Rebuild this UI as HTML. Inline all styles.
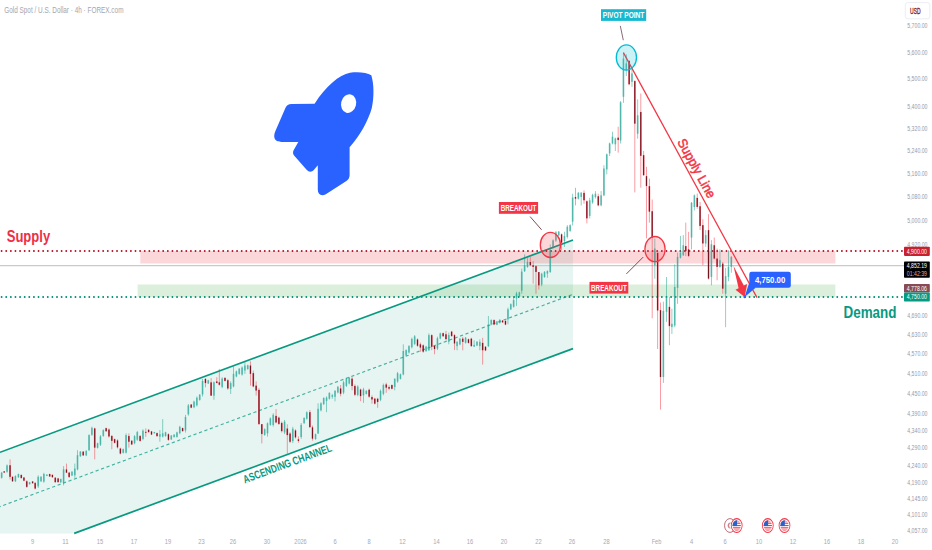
<!DOCTYPE html>
<html lang="en"><head><meta charset="utf-8"><title>Gold Spot / U.S. Dollar</title>
<style>html,body{margin:0;padding:0;background:#fff;overflow:hidden}svg{display:block}</style></head>
<body>
<svg width="932" height="550" viewBox="0 0 932 550" font-family='"Liberation Sans", sans-serif'>
<rect width="932" height="550" fill="#ffffff"/>
<polygon points="0,452.3 573.0,240.0 573.0,348.6 74.2,533.4 0,533.4" fill="#089981" fill-opacity="0.10"/>
<rect x="140.3" y="251" width="695.1" height="12.5" fill="#f23645" fill-opacity="0.2"/>
<rect x="137.6" y="284.5" width="697.8" height="12.5" fill="#4caf50" fill-opacity="0.2"/>
<line x1="0" y1="265.5" x2="904" y2="265.5" stroke="#c9cacf" stroke-width="1.25"/>
<line x1="0" y1="506.6" x2="573.0" y2="294.3" stroke="#089981" stroke-width="1.15" stroke-dasharray="3.2 2.6" stroke-dashoffset="2.4" opacity="0.72"/>
<line x1="0" y1="452.3" x2="573.0" y2="240.0" stroke="#089981" stroke-width="1.7"/>
<line x1="74.2" y1="533.4" x2="573.0" y2="348.6" stroke="#089981" stroke-width="1.7"/>
<line x1="1.6" y1="251" x2="904" y2="251" stroke="#cf2035" stroke-width="1.9" stroke-linecap="round" stroke-dasharray="0.01 4.607"/>
<line x1="1.6" y1="297" x2="904" y2="297" stroke="#089981" stroke-width="1.9" stroke-linecap="round" stroke-dasharray="0.01 4.607"/>
<line x1="1.6" y1="251" x2="904" y2="251" stroke="#6a0010" stroke-width="0.9" stroke-linecap="round" stroke-dasharray="0.01 4.607" opacity="0.75"/>
<line x1="1.6" y1="297" x2="904" y2="297" stroke="#04705e" stroke-width="0.9" stroke-linecap="round" stroke-dasharray="0.01 4.607" opacity="0.7"/>
<g id="candles">
<rect x="1.22" y="471.9" width="0.9" height="6.7" fill="#089981" fill-opacity="0.5"/>
<rect x="0.82" y="472.7" width="1.7" height="5.1" fill="#26a69a" fill-opacity="0.62"/>
<rect x="3.73" y="471.1" width="0.9" height="1.7" fill="#f23645" fill-opacity="0.55"/>
<rect x="3.33" y="471.3" width="1.7" height="1.3" fill="#ea2c40" fill-opacity="0.72"/>
<rect x="3.76" y="471.5" width="0.84" height="0.9" fill="#4a0510" fill-opacity="0.9"/>
<rect x="6.58" y="464.4" width="0.9" height="8.4" fill="#089981" fill-opacity="0.5"/>
<rect x="6.18" y="465.4" width="1.7" height="6.4" fill="#26a69a" fill-opacity="0.62"/>
<rect x="9.59" y="459.4" width="0.9" height="20.1" fill="#f23645" fill-opacity="0.55"/>
<rect x="9.19" y="465.2" width="1.7" height="11.7" fill="#ea2c40" fill-opacity="0.72"/>
<rect x="9.62" y="465.4" width="0.84" height="11.3" fill="#4a0510" fill-opacity="0.9"/>
<rect x="12.10" y="476.1" width="0.9" height="5.9" fill="#f23645" fill-opacity="0.55"/>
<rect x="11.70" y="476.8" width="1.7" height="4.5" fill="#ea2c40" fill-opacity="0.72"/>
<rect x="12.13" y="477.0" width="0.84" height="4.1" fill="#4a0510" fill-opacity="0.9"/>
<rect x="14.95" y="475.3" width="0.9" height="6.7" fill="#089981" fill-opacity="0.5"/>
<rect x="14.55" y="476.1" width="1.7" height="5.1" fill="#26a69a" fill-opacity="0.62"/>
<rect x="17.96" y="473.6" width="0.9" height="4.2" fill="#089981" fill-opacity="0.5"/>
<rect x="17.56" y="474.1" width="1.7" height="3.2" fill="#26a69a" fill-opacity="0.62"/>
<rect x="20.81" y="474.4" width="0.9" height="4.2" fill="#f23645" fill-opacity="0.55"/>
<rect x="20.41" y="474.9" width="1.7" height="3.2" fill="#ea2c40" fill-opacity="0.72"/>
<rect x="20.84" y="475.1" width="0.84" height="2.8" fill="#4a0510" fill-opacity="0.9"/>
<rect x="23.49" y="477.0" width="0.9" height="4.2" fill="#f23645" fill-opacity="0.55"/>
<rect x="23.09" y="477.5" width="1.7" height="3.2" fill="#ea2c40" fill-opacity="0.72"/>
<rect x="23.52" y="477.7" width="0.84" height="2.8" fill="#4a0510" fill-opacity="0.9"/>
<rect x="26.33" y="480.3" width="0.9" height="7.5" fill="#f23645" fill-opacity="0.55"/>
<rect x="25.93" y="481.2" width="1.7" height="5.7" fill="#ea2c40" fill-opacity="0.72"/>
<rect x="26.36" y="481.4" width="0.84" height="5.3" fill="#4a0510" fill-opacity="0.9"/>
<rect x="29.18" y="482.0" width="0.9" height="2.5" fill="#089981" fill-opacity="0.5"/>
<rect x="28.78" y="482.3" width="1.7" height="1.9" fill="#26a69a" fill-opacity="0.62"/>
<rect x="32.19" y="481.1" width="0.9" height="2.5" fill="#f23645" fill-opacity="0.55"/>
<rect x="31.79" y="481.4" width="1.7" height="1.9" fill="#ea2c40" fill-opacity="0.72"/>
<rect x="32.22" y="481.6" width="0.84" height="1.5" fill="#4a0510" fill-opacity="0.9"/>
<rect x="34.70" y="482.0" width="0.9" height="7.5" fill="#f23645" fill-opacity="0.55"/>
<rect x="34.30" y="482.9" width="1.7" height="5.7" fill="#ea2c40" fill-opacity="0.72"/>
<rect x="34.73" y="483.1" width="0.84" height="5.3" fill="#4a0510" fill-opacity="0.9"/>
<rect x="37.72" y="475.3" width="0.9" height="12.6" fill="#089981" fill-opacity="0.5"/>
<rect x="37.32" y="476.8" width="1.7" height="9.5" fill="#26a69a" fill-opacity="0.62"/>
<rect x="40.56" y="476.1" width="0.9" height="5.9" fill="#089981" fill-opacity="0.5"/>
<rect x="40.16" y="476.8" width="1.7" height="4.5" fill="#26a69a" fill-opacity="0.62"/>
<rect x="43.41" y="472.8" width="0.9" height="10.0" fill="#089981" fill-opacity="0.5"/>
<rect x="43.01" y="474.0" width="1.7" height="7.6" fill="#26a69a" fill-opacity="0.62"/>
<rect x="46.42" y="474.4" width="0.9" height="1.7" fill="#089981" fill-opacity="0.5"/>
<rect x="46.02" y="474.6" width="1.7" height="1.3" fill="#26a69a" fill-opacity="0.62"/>
<rect x="49.27" y="473.6" width="0.9" height="3.3" fill="#f23645" fill-opacity="0.55"/>
<rect x="48.87" y="474.0" width="1.7" height="2.5" fill="#ea2c40" fill-opacity="0.72"/>
<rect x="49.30" y="474.2" width="0.84" height="2.1" fill="#4a0510" fill-opacity="0.9"/>
<rect x="51.94" y="474.4" width="0.9" height="3.3" fill="#f23645" fill-opacity="0.55"/>
<rect x="51.54" y="474.8" width="1.7" height="2.5" fill="#ea2c40" fill-opacity="0.72"/>
<rect x="51.97" y="475.0" width="0.84" height="2.1" fill="#4a0510" fill-opacity="0.9"/>
<rect x="54.79" y="477.0" width="0.9" height="5.9" fill="#f23645" fill-opacity="0.55"/>
<rect x="54.39" y="477.7" width="1.7" height="4.5" fill="#ea2c40" fill-opacity="0.72"/>
<rect x="54.82" y="477.9" width="0.84" height="4.1" fill="#4a0510" fill-opacity="0.9"/>
<rect x="57.64" y="477.8" width="0.9" height="5.0" fill="#f23645" fill-opacity="0.55"/>
<rect x="57.24" y="478.4" width="1.7" height="3.8" fill="#ea2c40" fill-opacity="0.72"/>
<rect x="57.67" y="478.6" width="0.84" height="3.4" fill="#4a0510" fill-opacity="0.9"/>
<rect x="60.31" y="478.6" width="0.9" height="4.2" fill="#089981" fill-opacity="0.5"/>
<rect x="59.91" y="479.1" width="1.7" height="3.2" fill="#26a69a" fill-opacity="0.62"/>
<rect x="63.16" y="466.1" width="0.9" height="19.3" fill="#089981" fill-opacity="0.5"/>
<rect x="62.76" y="469.4" width="1.7" height="13.4" fill="#26a69a" fill-opacity="0.62"/>
<rect x="66.00" y="463.6" width="0.9" height="9.2" fill="#f23645" fill-opacity="0.55"/>
<rect x="65.60" y="469.4" width="1.7" height="3.3" fill="#ea2c40" fill-opacity="0.72"/>
<rect x="66.03" y="469.6" width="0.84" height="2.9" fill="#4a0510" fill-opacity="0.9"/>
<rect x="68.68" y="471.9" width="0.9" height="5.9" fill="#f23645" fill-opacity="0.55"/>
<rect x="68.28" y="472.6" width="1.7" height="4.5" fill="#ea2c40" fill-opacity="0.72"/>
<rect x="68.71" y="472.8" width="0.84" height="4.1" fill="#4a0510" fill-opacity="0.9"/>
<rect x="71.53" y="471.1" width="0.9" height="5.0" fill="#089981" fill-opacity="0.5"/>
<rect x="71.13" y="471.7" width="1.7" height="3.8" fill="#26a69a" fill-opacity="0.62"/>
<rect x="74.37" y="463.6" width="0.9" height="14.2" fill="#089981" fill-opacity="0.5"/>
<rect x="73.97" y="468.6" width="1.7" height="6.7" fill="#26a69a" fill-opacity="0.62"/>
<rect x="77.05" y="450.2" width="0.9" height="20.1" fill="#089981" fill-opacity="0.5"/>
<rect x="76.65" y="455.2" width="1.7" height="14.2" fill="#26a69a" fill-opacity="0.62"/>
<rect x="79.90" y="451.0" width="0.9" height="5.9" fill="#089981" fill-opacity="0.5"/>
<rect x="79.50" y="451.7" width="1.7" height="4.5" fill="#26a69a" fill-opacity="0.62"/>
<rect x="82.74" y="451.0" width="0.9" height="5.0" fill="#f23645" fill-opacity="0.55"/>
<rect x="82.34" y="451.6" width="1.7" height="3.8" fill="#ea2c40" fill-opacity="0.72"/>
<rect x="82.77" y="451.8" width="0.84" height="3.4" fill="#4a0510" fill-opacity="0.9"/>
<rect x="85.76" y="450.2" width="0.9" height="5.9" fill="#089981" fill-opacity="0.5"/>
<rect x="85.36" y="450.9" width="1.7" height="4.5" fill="#26a69a" fill-opacity="0.62"/>
<rect x="88.60" y="434.3" width="0.9" height="16.7" fill="#089981" fill-opacity="0.5"/>
<rect x="88.20" y="435.1" width="1.7" height="15.1" fill="#26a69a" fill-opacity="0.62"/>
<rect x="91.45" y="426.7" width="0.9" height="9.2" fill="#089981" fill-opacity="0.5"/>
<rect x="91.05" y="427.8" width="1.7" height="7.0" fill="#26a69a" fill-opacity="0.62"/>
<rect x="94.29" y="427.6" width="0.9" height="31.8" fill="#f23645" fill-opacity="0.55"/>
<rect x="93.89" y="428.4" width="1.7" height="19.3" fill="#ea2c40" fill-opacity="0.72"/>
<rect x="94.32" y="428.6" width="0.84" height="18.9" fill="#4a0510" fill-opacity="0.9"/>
<rect x="97.14" y="442.6" width="0.9" height="5.9" fill="#089981" fill-opacity="0.5"/>
<rect x="96.74" y="443.3" width="1.7" height="4.5" fill="#26a69a" fill-opacity="0.62"/>
<rect x="99.99" y="435.1" width="0.9" height="10.9" fill="#089981" fill-opacity="0.5"/>
<rect x="99.59" y="436.4" width="1.7" height="8.3" fill="#26a69a" fill-opacity="0.62"/>
<rect x="102.83" y="429.3" width="0.9" height="7.5" fill="#089981" fill-opacity="0.5"/>
<rect x="102.43" y="430.2" width="1.7" height="5.7" fill="#26a69a" fill-opacity="0.62"/>
<rect x="105.68" y="427.6" width="0.9" height="4.2" fill="#f23645" fill-opacity="0.55"/>
<rect x="105.28" y="428.1" width="1.7" height="3.2" fill="#ea2c40" fill-opacity="0.72"/>
<rect x="105.71" y="428.3" width="0.84" height="2.8" fill="#4a0510" fill-opacity="0.9"/>
<rect x="108.52" y="428.4" width="0.9" height="9.2" fill="#f23645" fill-opacity="0.55"/>
<rect x="108.12" y="429.5" width="1.7" height="7.0" fill="#ea2c40" fill-opacity="0.72"/>
<rect x="108.55" y="429.7" width="0.84" height="6.6" fill="#4a0510" fill-opacity="0.9"/>
<rect x="111.37" y="435.1" width="0.9" height="14.2" fill="#f23645" fill-opacity="0.55"/>
<rect x="110.97" y="435.9" width="1.7" height="5.0" fill="#ea2c40" fill-opacity="0.72"/>
<rect x="111.40" y="436.1" width="0.84" height="4.6" fill="#4a0510" fill-opacity="0.9"/>
<rect x="114.21" y="438.5" width="0.9" height="5.0" fill="#f23645" fill-opacity="0.55"/>
<rect x="113.81" y="439.1" width="1.7" height="3.8" fill="#ea2c40" fill-opacity="0.72"/>
<rect x="114.24" y="439.3" width="0.84" height="3.4" fill="#4a0510" fill-opacity="0.9"/>
<rect x="117.06" y="439.3" width="0.9" height="9.2" fill="#f23645" fill-opacity="0.55"/>
<rect x="116.66" y="440.4" width="1.7" height="7.0" fill="#ea2c40" fill-opacity="0.72"/>
<rect x="117.09" y="440.6" width="0.84" height="6.6" fill="#4a0510" fill-opacity="0.9"/>
<rect x="119.90" y="447.7" width="0.9" height="6.7" fill="#f23645" fill-opacity="0.55"/>
<rect x="119.50" y="448.5" width="1.7" height="5.1" fill="#ea2c40" fill-opacity="0.72"/>
<rect x="119.93" y="448.7" width="0.84" height="4.7" fill="#4a0510" fill-opacity="0.9"/>
<rect x="122.75" y="448.5" width="0.9" height="5.0" fill="#089981" fill-opacity="0.5"/>
<rect x="122.35" y="449.1" width="1.7" height="3.8" fill="#26a69a" fill-opacity="0.62"/>
<rect x="125.60" y="433.4" width="0.9" height="20.1" fill="#089981" fill-opacity="0.5"/>
<rect x="125.20" y="435.1" width="1.7" height="17.6" fill="#26a69a" fill-opacity="0.62"/>
<rect x="128.44" y="433.4" width="0.9" height="14.2" fill="#f23645" fill-opacity="0.55"/>
<rect x="128.04" y="435.9" width="1.7" height="5.9" fill="#ea2c40" fill-opacity="0.72"/>
<rect x="128.47" y="436.1" width="0.84" height="5.5" fill="#4a0510" fill-opacity="0.9"/>
<rect x="131.29" y="440.1" width="0.9" height="5.0" fill="#f23645" fill-opacity="0.55"/>
<rect x="130.89" y="440.7" width="1.7" height="3.8" fill="#ea2c40" fill-opacity="0.72"/>
<rect x="131.32" y="440.9" width="0.84" height="3.4" fill="#4a0510" fill-opacity="0.9"/>
<rect x="134.13" y="435.1" width="0.9" height="9.2" fill="#089981" fill-opacity="0.5"/>
<rect x="133.73" y="436.2" width="1.7" height="7.0" fill="#26a69a" fill-opacity="0.62"/>
<rect x="136.81" y="430.9" width="0.9" height="10.0" fill="#089981" fill-opacity="0.5"/>
<rect x="136.41" y="432.1" width="1.7" height="7.6" fill="#26a69a" fill-opacity="0.62"/>
<rect x="139.66" y="435.1" width="0.9" height="6.7" fill="#f23645" fill-opacity="0.55"/>
<rect x="139.26" y="435.9" width="1.7" height="5.1" fill="#ea2c40" fill-opacity="0.72"/>
<rect x="139.69" y="436.1" width="0.84" height="4.7" fill="#4a0510" fill-opacity="0.9"/>
<rect x="142.50" y="429.3" width="0.9" height="10.9" fill="#089981" fill-opacity="0.5"/>
<rect x="142.10" y="430.6" width="1.7" height="8.3" fill="#26a69a" fill-opacity="0.62"/>
<rect x="145.35" y="428.4" width="0.9" height="8.4" fill="#f23645" fill-opacity="0.55"/>
<rect x="144.95" y="431.8" width="1.7" height="1.0" fill="#ea2c40" fill-opacity="0.72"/>
<rect x="145.38" y="432.0" width="0.84" height="0.6" fill="#4a0510" fill-opacity="0.9"/>
<rect x="148.19" y="429.3" width="0.9" height="3.3" fill="#f23645" fill-opacity="0.55"/>
<rect x="147.79" y="429.7" width="1.7" height="2.5" fill="#ea2c40" fill-opacity="0.72"/>
<rect x="148.22" y="429.9" width="0.84" height="2.1" fill="#4a0510" fill-opacity="0.9"/>
<rect x="151.04" y="430.9" width="0.9" height="4.2" fill="#f23645" fill-opacity="0.55"/>
<rect x="150.64" y="431.4" width="1.7" height="3.2" fill="#ea2c40" fill-opacity="0.72"/>
<rect x="151.07" y="431.6" width="0.84" height="2.8" fill="#4a0510" fill-opacity="0.9"/>
<rect x="153.89" y="431.8" width="0.9" height="1.7" fill="#089981" fill-opacity="0.5"/>
<rect x="153.49" y="432.0" width="1.7" height="1.3" fill="#26a69a" fill-opacity="0.62"/>
<rect x="156.58" y="432.5" width="0.9" height="4.2" fill="#f23645" fill-opacity="0.55"/>
<rect x="156.18" y="433.0" width="1.7" height="3.2" fill="#ea2c40" fill-opacity="0.72"/>
<rect x="156.61" y="433.2" width="0.84" height="2.8" fill="#4a0510" fill-opacity="0.9"/>
<rect x="159.43" y="430.0" width="0.9" height="11.7" fill="#089981" fill-opacity="0.5"/>
<rect x="159.03" y="434.2" width="1.7" height="2.5" fill="#26a69a" fill-opacity="0.62"/>
<rect x="162.27" y="419.1" width="0.9" height="18.4" fill="#089981" fill-opacity="0.5"/>
<rect x="161.87" y="433.3" width="1.7" height="3.3" fill="#26a69a" fill-opacity="0.62"/>
<rect x="165.12" y="431.7" width="0.9" height="5.0" fill="#089981" fill-opacity="0.5"/>
<rect x="164.72" y="432.3" width="1.7" height="3.8" fill="#26a69a" fill-opacity="0.62"/>
<rect x="167.96" y="433.3" width="0.9" height="7.5" fill="#f23645" fill-opacity="0.55"/>
<rect x="167.56" y="434.2" width="1.7" height="5.7" fill="#ea2c40" fill-opacity="0.72"/>
<rect x="167.99" y="434.4" width="0.84" height="5.3" fill="#4a0510" fill-opacity="0.9"/>
<rect x="170.81" y="435.0" width="0.9" height="5.0" fill="#089981" fill-opacity="0.5"/>
<rect x="170.41" y="435.6" width="1.7" height="3.8" fill="#26a69a" fill-opacity="0.62"/>
<rect x="173.65" y="434.2" width="0.9" height="3.3" fill="#089981" fill-opacity="0.5"/>
<rect x="173.25" y="434.6" width="1.7" height="2.5" fill="#26a69a" fill-opacity="0.62"/>
<rect x="176.50" y="431.7" width="0.9" height="5.9" fill="#089981" fill-opacity="0.5"/>
<rect x="176.10" y="432.4" width="1.7" height="4.5" fill="#26a69a" fill-opacity="0.62"/>
<rect x="179.35" y="425.8" width="0.9" height="8.4" fill="#089981" fill-opacity="0.5"/>
<rect x="178.95" y="426.8" width="1.7" height="6.4" fill="#26a69a" fill-opacity="0.62"/>
<rect x="182.19" y="427.5" width="0.9" height="4.2" fill="#f23645" fill-opacity="0.55"/>
<rect x="181.79" y="428.0" width="1.7" height="3.2" fill="#ea2c40" fill-opacity="0.72"/>
<rect x="182.22" y="428.2" width="0.84" height="2.8" fill="#4a0510" fill-opacity="0.9"/>
<rect x="185.04" y="414.9" width="0.9" height="17.6" fill="#089981" fill-opacity="0.5"/>
<rect x="184.64" y="417.0" width="1.7" height="13.4" fill="#26a69a" fill-opacity="0.62"/>
<rect x="187.88" y="404.0" width="0.9" height="11.7" fill="#089981" fill-opacity="0.5"/>
<rect x="187.48" y="405.4" width="1.7" height="8.9" fill="#26a69a" fill-opacity="0.62"/>
<rect x="190.73" y="404.0" width="0.9" height="4.2" fill="#f23645" fill-opacity="0.55"/>
<rect x="190.33" y="404.5" width="1.7" height="3.2" fill="#ea2c40" fill-opacity="0.72"/>
<rect x="190.76" y="404.7" width="0.84" height="2.8" fill="#4a0510" fill-opacity="0.9"/>
<rect x="193.57" y="400.7" width="0.9" height="7.5" fill="#089981" fill-opacity="0.5"/>
<rect x="193.17" y="401.6" width="1.7" height="5.7" fill="#26a69a" fill-opacity="0.62"/>
<rect x="196.42" y="396.5" width="0.9" height="10.0" fill="#089981" fill-opacity="0.5"/>
<rect x="196.02" y="397.7" width="1.7" height="7.6" fill="#26a69a" fill-opacity="0.62"/>
<rect x="199.27" y="394.0" width="0.9" height="6.7" fill="#089981" fill-opacity="0.5"/>
<rect x="198.87" y="394.8" width="1.7" height="5.1" fill="#26a69a" fill-opacity="0.62"/>
<rect x="202.11" y="378.9" width="0.9" height="17.6" fill="#089981" fill-opacity="0.5"/>
<rect x="201.71" y="381.0" width="1.7" height="13.4" fill="#26a69a" fill-opacity="0.62"/>
<rect x="204.96" y="378.1" width="0.9" height="9.2" fill="#f23645" fill-opacity="0.55"/>
<rect x="204.56" y="378.9" width="1.7" height="4.2" fill="#ea2c40" fill-opacity="0.72"/>
<rect x="204.99" y="379.1" width="0.84" height="3.8" fill="#4a0510" fill-opacity="0.9"/>
<rect x="207.80" y="379.8" width="0.9" height="4.2" fill="#089981" fill-opacity="0.5"/>
<rect x="207.40" y="380.3" width="1.7" height="3.2" fill="#26a69a" fill-opacity="0.62"/>
<rect x="210.65" y="378.1" width="0.9" height="17.6" fill="#f23645" fill-opacity="0.55"/>
<rect x="210.25" y="382.3" width="1.7" height="13.4" fill="#ea2c40" fill-opacity="0.72"/>
<rect x="210.68" y="382.5" width="0.84" height="13.0" fill="#4a0510" fill-opacity="0.9"/>
<rect x="213.49" y="381.4" width="0.9" height="18.4" fill="#089981" fill-opacity="0.5"/>
<rect x="213.09" y="382.3" width="1.7" height="13.4" fill="#26a69a" fill-opacity="0.62"/>
<rect x="216.34" y="377.3" width="0.9" height="5.9" fill="#f23645" fill-opacity="0.55"/>
<rect x="215.94" y="381.4" width="1.7" height="1.7" fill="#ea2c40" fill-opacity="0.72"/>
<rect x="216.37" y="381.6" width="0.84" height="1.3" fill="#4a0510" fill-opacity="0.9"/>
<rect x="218.85" y="368.9" width="0.9" height="16.7" fill="#f23645" fill-opacity="0.55"/>
<rect x="218.45" y="382.3" width="1.7" height="2.5" fill="#ea2c40" fill-opacity="0.72"/>
<rect x="218.88" y="382.5" width="0.84" height="2.1" fill="#4a0510" fill-opacity="0.9"/>
<rect x="221.70" y="377.3" width="0.9" height="10.9" fill="#089981" fill-opacity="0.5"/>
<rect x="221.30" y="378.6" width="1.7" height="8.3" fill="#26a69a" fill-opacity="0.62"/>
<rect x="224.54" y="377.3" width="0.9" height="4.2" fill="#f23645" fill-opacity="0.55"/>
<rect x="224.14" y="377.8" width="1.7" height="3.2" fill="#ea2c40" fill-opacity="0.72"/>
<rect x="224.57" y="378.0" width="0.84" height="2.8" fill="#4a0510" fill-opacity="0.9"/>
<rect x="227.39" y="378.9" width="0.9" height="10.9" fill="#f23645" fill-opacity="0.55"/>
<rect x="226.99" y="380.2" width="1.7" height="8.3" fill="#ea2c40" fill-opacity="0.72"/>
<rect x="227.42" y="380.4" width="0.84" height="7.9" fill="#4a0510" fill-opacity="0.9"/>
<rect x="230.23" y="381.4" width="0.9" height="12.6" fill="#089981" fill-opacity="0.5"/>
<rect x="229.83" y="383.1" width="1.7" height="5.9" fill="#26a69a" fill-opacity="0.62"/>
<rect x="233.08" y="366.4" width="0.9" height="20.9" fill="#089981" fill-opacity="0.5"/>
<rect x="232.68" y="373.9" width="1.7" height="12.6" fill="#26a69a" fill-opacity="0.62"/>
<rect x="235.92" y="370.6" width="0.9" height="6.7" fill="#089981" fill-opacity="0.5"/>
<rect x="235.52" y="371.4" width="1.7" height="5.1" fill="#26a69a" fill-opacity="0.62"/>
<rect x="238.77" y="368.0" width="0.9" height="6.7" fill="#089981" fill-opacity="0.5"/>
<rect x="238.37" y="368.8" width="1.7" height="5.1" fill="#26a69a" fill-opacity="0.62"/>
<rect x="241.62" y="366.4" width="0.9" height="9.2" fill="#089981" fill-opacity="0.5"/>
<rect x="241.22" y="367.5" width="1.7" height="7.0" fill="#26a69a" fill-opacity="0.62"/>
<rect x="244.46" y="362.2" width="0.9" height="11.7" fill="#089981" fill-opacity="0.5"/>
<rect x="244.06" y="365.5" width="1.7" height="5.0" fill="#26a69a" fill-opacity="0.62"/>
<rect x="247.31" y="364.7" width="0.9" height="5.0" fill="#089981" fill-opacity="0.5"/>
<rect x="246.91" y="365.3" width="1.7" height="3.8" fill="#26a69a" fill-opacity="0.62"/>
<rect x="249.99" y="361.3" width="0.9" height="24.3" fill="#f23645" fill-opacity="0.55"/>
<rect x="249.59" y="365.5" width="1.7" height="8.4" fill="#ea2c40" fill-opacity="0.72"/>
<rect x="250.02" y="365.7" width="0.84" height="8.0" fill="#4a0510" fill-opacity="0.9"/>
<rect x="252.83" y="370.6" width="0.9" height="16.7" fill="#f23645" fill-opacity="0.55"/>
<rect x="252.43" y="373.1" width="1.7" height="13.4" fill="#ea2c40" fill-opacity="0.72"/>
<rect x="252.86" y="373.3" width="0.84" height="13.0" fill="#4a0510" fill-opacity="0.9"/>
<rect x="255.68" y="381.4" width="0.9" height="14.2" fill="#f23645" fill-opacity="0.55"/>
<rect x="255.28" y="385.6" width="1.7" height="5.0" fill="#ea2c40" fill-opacity="0.72"/>
<rect x="255.71" y="385.8" width="0.84" height="4.6" fill="#4a0510" fill-opacity="0.9"/>
<rect x="258.52" y="388.1" width="0.9" height="36.8" fill="#f23645" fill-opacity="0.55"/>
<rect x="258.12" y="389.8" width="1.7" height="34.3" fill="#ea2c40" fill-opacity="0.72"/>
<rect x="258.55" y="390.0" width="0.84" height="33.9" fill="#4a0510" fill-opacity="0.9"/>
<rect x="261.37" y="424.1" width="0.9" height="19.3" fill="#f23645" fill-opacity="0.55"/>
<rect x="260.97" y="424.1" width="1.7" height="10.0" fill="#ea2c40" fill-opacity="0.72"/>
<rect x="261.40" y="424.3" width="0.84" height="9.6" fill="#4a0510" fill-opacity="0.9"/>
<rect x="264.21" y="428.3" width="0.9" height="7.5" fill="#089981" fill-opacity="0.5"/>
<rect x="263.81" y="429.2" width="1.7" height="5.7" fill="#26a69a" fill-opacity="0.62"/>
<rect x="267.06" y="422.4" width="0.9" height="14.2" fill="#089981" fill-opacity="0.5"/>
<rect x="266.66" y="423.3" width="1.7" height="10.0" fill="#26a69a" fill-opacity="0.62"/>
<rect x="269.90" y="417.4" width="0.9" height="8.4" fill="#089981" fill-opacity="0.5"/>
<rect x="269.50" y="418.4" width="1.7" height="6.4" fill="#26a69a" fill-opacity="0.62"/>
<rect x="272.75" y="413.2" width="0.9" height="13.4" fill="#089981" fill-opacity="0.5"/>
<rect x="272.35" y="414.8" width="1.7" height="10.2" fill="#26a69a" fill-opacity="0.62"/>
<rect x="275.60" y="409.1" width="0.9" height="14.2" fill="#f23645" fill-opacity="0.55"/>
<rect x="275.20" y="415.8" width="1.7" height="6.7" fill="#ea2c40" fill-opacity="0.72"/>
<rect x="275.63" y="416.0" width="0.84" height="6.3" fill="#4a0510" fill-opacity="0.9"/>
<rect x="278.44" y="416.6" width="0.9" height="8.4" fill="#f23645" fill-opacity="0.55"/>
<rect x="278.04" y="417.6" width="1.7" height="6.4" fill="#ea2c40" fill-opacity="0.72"/>
<rect x="278.47" y="417.8" width="0.84" height="6.0" fill="#4a0510" fill-opacity="0.9"/>
<rect x="281.29" y="421.6" width="0.9" height="10.9" fill="#f23645" fill-opacity="0.55"/>
<rect x="280.89" y="422.9" width="1.7" height="8.3" fill="#ea2c40" fill-opacity="0.72"/>
<rect x="281.32" y="423.1" width="0.84" height="7.9" fill="#4a0510" fill-opacity="0.9"/>
<rect x="284.13" y="419.9" width="0.9" height="14.2" fill="#089981" fill-opacity="0.5"/>
<rect x="283.73" y="421.6" width="1.7" height="10.8" fill="#26a69a" fill-opacity="0.62"/>
<rect x="286.83" y="424.3" width="0.9" height="29.5" fill="#f23645" fill-opacity="0.55"/>
<rect x="286.43" y="428.5" width="1.7" height="6.7" fill="#ea2c40" fill-opacity="0.72"/>
<rect x="286.86" y="428.7" width="0.84" height="6.3" fill="#4a0510" fill-opacity="0.9"/>
<rect x="289.59" y="432.2" width="0.9" height="10.9" fill="#f23645" fill-opacity="0.55"/>
<rect x="289.19" y="433.5" width="1.7" height="8.3" fill="#ea2c40" fill-opacity="0.72"/>
<rect x="289.62" y="433.7" width="0.84" height="7.9" fill="#4a0510" fill-opacity="0.9"/>
<rect x="292.35" y="426.8" width="0.9" height="16.3" fill="#089981" fill-opacity="0.5"/>
<rect x="291.95" y="428.7" width="1.7" height="12.4" fill="#26a69a" fill-opacity="0.62"/>
<rect x="295.03" y="429.3" width="0.9" height="9.2" fill="#f23645" fill-opacity="0.55"/>
<rect x="294.63" y="430.4" width="1.7" height="7.0" fill="#ea2c40" fill-opacity="0.72"/>
<rect x="295.06" y="430.6" width="0.84" height="6.6" fill="#4a0510" fill-opacity="0.9"/>
<rect x="297.96" y="436.4" width="0.9" height="6.3" fill="#f23645" fill-opacity="0.55"/>
<rect x="297.56" y="439.3" width="1.7" height="1.7" fill="#ea2c40" fill-opacity="0.72"/>
<rect x="297.99" y="439.5" width="0.84" height="1.3" fill="#4a0510" fill-opacity="0.9"/>
<rect x="300.72" y="423.0" width="0.9" height="15.9" fill="#089981" fill-opacity="0.5"/>
<rect x="300.32" y="424.9" width="1.7" height="12.1" fill="#26a69a" fill-opacity="0.62"/>
<rect x="303.65" y="417.2" width="0.9" height="6.7" fill="#089981" fill-opacity="0.5"/>
<rect x="303.25" y="418.0" width="1.7" height="5.1" fill="#26a69a" fill-opacity="0.62"/>
<rect x="306.33" y="411.3" width="0.9" height="8.4" fill="#089981" fill-opacity="0.5"/>
<rect x="305.93" y="412.3" width="1.7" height="6.4" fill="#26a69a" fill-opacity="0.62"/>
<rect x="309.42" y="410.0" width="0.9" height="18.0" fill="#f23645" fill-opacity="0.55"/>
<rect x="309.02" y="412.1" width="1.7" height="15.1" fill="#ea2c40" fill-opacity="0.72"/>
<rect x="309.45" y="412.3" width="0.84" height="14.7" fill="#4a0510" fill-opacity="0.9"/>
<rect x="312.02" y="425.5" width="0.9" height="15.1" fill="#f23645" fill-opacity="0.55"/>
<rect x="311.62" y="427.3" width="1.7" height="11.4" fill="#ea2c40" fill-opacity="0.72"/>
<rect x="312.05" y="427.5" width="0.84" height="11.0" fill="#4a0510" fill-opacity="0.9"/>
<rect x="315.11" y="433.5" width="0.9" height="6.3" fill="#089981" fill-opacity="0.5"/>
<rect x="314.71" y="434.2" width="1.7" height="4.8" fill="#26a69a" fill-opacity="0.62"/>
<rect x="317.63" y="403.3" width="0.9" height="30.5" fill="#089981" fill-opacity="0.5"/>
<rect x="317.23" y="408.8" width="1.7" height="24.7" fill="#26a69a" fill-opacity="0.62"/>
<rect x="320.51" y="402.2" width="0.9" height="9.2" fill="#089981" fill-opacity="0.5"/>
<rect x="320.11" y="403.3" width="1.7" height="7.0" fill="#26a69a" fill-opacity="0.62"/>
<rect x="323.27" y="397.2" width="0.9" height="7.9" fill="#089981" fill-opacity="0.5"/>
<rect x="322.87" y="398.1" width="1.7" height="6.0" fill="#26a69a" fill-opacity="0.62"/>
<rect x="326.12" y="396.3" width="0.9" height="15.9" fill="#089981" fill-opacity="0.5"/>
<rect x="325.72" y="397.6" width="1.7" height="3.3" fill="#26a69a" fill-opacity="0.62"/>
<rect x="328.88" y="392.1" width="0.9" height="7.5" fill="#089981" fill-opacity="0.5"/>
<rect x="328.48" y="393.0" width="1.7" height="5.7" fill="#26a69a" fill-opacity="0.62"/>
<rect x="331.81" y="393.8" width="0.9" height="5.0" fill="#089981" fill-opacity="0.5"/>
<rect x="331.41" y="395.1" width="1.7" height="1.7" fill="#26a69a" fill-opacity="0.62"/>
<rect x="334.57" y="390.0" width="0.9" height="11.3" fill="#089981" fill-opacity="0.5"/>
<rect x="334.17" y="390.9" width="1.7" height="5.9" fill="#26a69a" fill-opacity="0.62"/>
<rect x="337.42" y="385.9" width="0.9" height="7.5" fill="#089981" fill-opacity="0.5"/>
<rect x="337.02" y="386.8" width="1.7" height="5.7" fill="#26a69a" fill-opacity="0.62"/>
<rect x="340.18" y="385.0" width="0.9" height="11.3" fill="#f23645" fill-opacity="0.55"/>
<rect x="339.78" y="388.4" width="1.7" height="5.4" fill="#ea2c40" fill-opacity="0.72"/>
<rect x="340.21" y="388.6" width="0.84" height="5.0" fill="#4a0510" fill-opacity="0.9"/>
<rect x="343.11" y="380.8" width="0.9" height="13.4" fill="#089981" fill-opacity="0.5"/>
<rect x="342.71" y="382.4" width="1.7" height="10.2" fill="#26a69a" fill-opacity="0.62"/>
<rect x="345.92" y="377.8" width="0.9" height="9.2" fill="#089981" fill-opacity="0.5"/>
<rect x="345.52" y="378.9" width="1.7" height="7.0" fill="#26a69a" fill-opacity="0.62"/>
<rect x="348.76" y="376.9" width="0.9" height="7.5" fill="#089981" fill-opacity="0.5"/>
<rect x="348.36" y="377.8" width="1.7" height="5.7" fill="#26a69a" fill-opacity="0.62"/>
<rect x="351.61" y="376.9" width="0.9" height="13.4" fill="#f23645" fill-opacity="0.55"/>
<rect x="351.21" y="378.6" width="1.7" height="7.5" fill="#ea2c40" fill-opacity="0.72"/>
<rect x="351.64" y="378.8" width="0.84" height="7.1" fill="#4a0510" fill-opacity="0.9"/>
<rect x="354.45" y="384.4" width="0.9" height="11.7" fill="#f23645" fill-opacity="0.55"/>
<rect x="354.05" y="385.9" width="1.7" height="8.9" fill="#ea2c40" fill-opacity="0.72"/>
<rect x="354.48" y="386.1" width="0.84" height="8.5" fill="#4a0510" fill-opacity="0.9"/>
<rect x="357.30" y="385.3" width="0.9" height="10.9" fill="#089981" fill-opacity="0.5"/>
<rect x="356.90" y="386.6" width="1.7" height="8.3" fill="#26a69a" fill-opacity="0.62"/>
<rect x="360.15" y="388.6" width="0.9" height="12.6" fill="#f23645" fill-opacity="0.55"/>
<rect x="359.75" y="389.5" width="1.7" height="6.7" fill="#ea2c40" fill-opacity="0.72"/>
<rect x="360.18" y="389.7" width="0.84" height="6.3" fill="#4a0510" fill-opacity="0.9"/>
<rect x="362.99" y="387.8" width="0.9" height="15.1" fill="#089981" fill-opacity="0.5"/>
<rect x="362.59" y="389.5" width="1.7" height="5.9" fill="#26a69a" fill-opacity="0.62"/>
<rect x="365.84" y="390.3" width="0.9" height="4.2" fill="#089981" fill-opacity="0.5"/>
<rect x="365.44" y="390.8" width="1.7" height="3.2" fill="#26a69a" fill-opacity="0.62"/>
<rect x="368.68" y="388.6" width="0.9" height="9.2" fill="#f23645" fill-opacity="0.55"/>
<rect x="368.28" y="389.7" width="1.7" height="7.0" fill="#ea2c40" fill-opacity="0.72"/>
<rect x="368.71" y="389.9" width="0.84" height="6.6" fill="#4a0510" fill-opacity="0.9"/>
<rect x="371.53" y="395.3" width="0.9" height="8.4" fill="#f23645" fill-opacity="0.55"/>
<rect x="371.13" y="397.0" width="1.7" height="2.5" fill="#ea2c40" fill-opacity="0.72"/>
<rect x="371.56" y="397.2" width="0.84" height="2.1" fill="#4a0510" fill-opacity="0.9"/>
<rect x="374.37" y="397.8" width="0.9" height="6.7" fill="#f23645" fill-opacity="0.55"/>
<rect x="373.97" y="398.6" width="1.7" height="5.1" fill="#ea2c40" fill-opacity="0.72"/>
<rect x="374.40" y="398.8" width="0.84" height="4.7" fill="#4a0510" fill-opacity="0.9"/>
<rect x="377.22" y="397.8" width="0.9" height="10.0" fill="#f23645" fill-opacity="0.55"/>
<rect x="376.82" y="398.7" width="1.7" height="3.3" fill="#ea2c40" fill-opacity="0.72"/>
<rect x="377.25" y="398.9" width="0.84" height="2.9" fill="#4a0510" fill-opacity="0.9"/>
<rect x="380.07" y="389.5" width="0.9" height="11.7" fill="#089981" fill-opacity="0.5"/>
<rect x="379.67" y="390.9" width="1.7" height="8.9" fill="#26a69a" fill-opacity="0.62"/>
<rect x="382.91" y="383.6" width="0.9" height="11.7" fill="#089981" fill-opacity="0.5"/>
<rect x="382.51" y="385.0" width="1.7" height="8.9" fill="#26a69a" fill-opacity="0.62"/>
<rect x="385.76" y="382.8" width="0.9" height="10.0" fill="#f23645" fill-opacity="0.55"/>
<rect x="385.36" y="384.4" width="1.7" height="3.3" fill="#ea2c40" fill-opacity="0.72"/>
<rect x="385.79" y="384.6" width="0.84" height="2.9" fill="#4a0510" fill-opacity="0.9"/>
<rect x="388.60" y="385.3" width="0.9" height="5.0" fill="#f23645" fill-opacity="0.55"/>
<rect x="388.20" y="387.0" width="1.7" height="1.7" fill="#ea2c40" fill-opacity="0.72"/>
<rect x="388.63" y="387.2" width="0.84" height="1.3" fill="#4a0510" fill-opacity="0.9"/>
<rect x="391.45" y="384.4" width="0.9" height="5.0" fill="#f23645" fill-opacity="0.55"/>
<rect x="391.05" y="385.0" width="1.7" height="3.8" fill="#ea2c40" fill-opacity="0.72"/>
<rect x="391.48" y="385.2" width="0.84" height="3.4" fill="#4a0510" fill-opacity="0.9"/>
<rect x="394.29" y="378.6" width="0.9" height="11.7" fill="#089981" fill-opacity="0.5"/>
<rect x="393.89" y="378.6" width="1.7" height="8.4" fill="#26a69a" fill-opacity="0.62"/>
<rect x="397.14" y="371.9" width="0.9" height="10.9" fill="#089981" fill-opacity="0.5"/>
<rect x="396.74" y="373.2" width="1.7" height="8.3" fill="#26a69a" fill-opacity="0.62"/>
<rect x="399.99" y="373.6" width="0.9" height="5.9" fill="#089981" fill-opacity="0.5"/>
<rect x="399.59" y="374.3" width="1.7" height="4.5" fill="#26a69a" fill-opacity="0.62"/>
<rect x="402.83" y="344.3" width="0.9" height="31.0" fill="#089981" fill-opacity="0.5"/>
<rect x="402.43" y="351.0" width="1.7" height="23.4" fill="#26a69a" fill-opacity="0.62"/>
<rect x="405.68" y="349.3" width="0.9" height="6.7" fill="#089981" fill-opacity="0.5"/>
<rect x="405.28" y="350.1" width="1.7" height="5.1" fill="#26a69a" fill-opacity="0.62"/>
<rect x="408.52" y="345.1" width="0.9" height="8.4" fill="#089981" fill-opacity="0.5"/>
<rect x="408.12" y="346.1" width="1.7" height="6.4" fill="#26a69a" fill-opacity="0.62"/>
<rect x="411.37" y="337.6" width="0.9" height="10.9" fill="#089981" fill-opacity="0.5"/>
<rect x="410.97" y="338.9" width="1.7" height="8.3" fill="#26a69a" fill-opacity="0.62"/>
<rect x="414.21" y="335.1" width="0.9" height="10.0" fill="#089981" fill-opacity="0.5"/>
<rect x="413.81" y="336.3" width="1.7" height="7.6" fill="#26a69a" fill-opacity="0.62"/>
<rect x="417.06" y="338.4" width="0.9" height="8.4" fill="#f23645" fill-opacity="0.55"/>
<rect x="416.66" y="339.4" width="1.7" height="6.4" fill="#ea2c40" fill-opacity="0.72"/>
<rect x="417.09" y="339.6" width="0.84" height="6.0" fill="#4a0510" fill-opacity="0.9"/>
<rect x="419.90" y="342.6" width="0.9" height="9.2" fill="#f23645" fill-opacity="0.55"/>
<rect x="419.50" y="344.3" width="1.7" height="3.3" fill="#ea2c40" fill-opacity="0.72"/>
<rect x="419.93" y="344.5" width="0.84" height="2.9" fill="#4a0510" fill-opacity="0.9"/>
<rect x="422.75" y="344.3" width="0.9" height="8.4" fill="#f23645" fill-opacity="0.55"/>
<rect x="422.35" y="345.3" width="1.7" height="6.4" fill="#ea2c40" fill-opacity="0.72"/>
<rect x="422.78" y="345.5" width="0.84" height="6.0" fill="#4a0510" fill-opacity="0.9"/>
<rect x="425.60" y="345.9" width="0.9" height="5.9" fill="#089981" fill-opacity="0.5"/>
<rect x="425.20" y="346.6" width="1.7" height="4.5" fill="#26a69a" fill-opacity="0.62"/>
<rect x="428.44" y="333.4" width="0.9" height="17.6" fill="#089981" fill-opacity="0.5"/>
<rect x="428.04" y="335.1" width="1.7" height="15.1" fill="#26a69a" fill-opacity="0.62"/>
<rect x="431.29" y="334.2" width="0.9" height="15.9" fill="#f23645" fill-opacity="0.55"/>
<rect x="430.89" y="335.1" width="1.7" height="11.7" fill="#ea2c40" fill-opacity="0.72"/>
<rect x="431.32" y="335.3" width="0.84" height="11.3" fill="#4a0510" fill-opacity="0.9"/>
<rect x="434.13" y="345.1" width="0.9" height="9.2" fill="#f23645" fill-opacity="0.55"/>
<rect x="433.73" y="345.9" width="1.7" height="3.3" fill="#ea2c40" fill-opacity="0.72"/>
<rect x="434.16" y="346.1" width="0.84" height="2.9" fill="#4a0510" fill-opacity="0.9"/>
<rect x="436.98" y="336.7" width="0.9" height="13.4" fill="#089981" fill-opacity="0.5"/>
<rect x="436.58" y="338.3" width="1.7" height="10.2" fill="#26a69a" fill-opacity="0.62"/>
<rect x="439.82" y="332.6" width="0.9" height="6.7" fill="#089981" fill-opacity="0.5"/>
<rect x="439.42" y="333.4" width="1.7" height="5.1" fill="#26a69a" fill-opacity="0.62"/>
<rect x="442.67" y="332.6" width="0.9" height="4.2" fill="#f23645" fill-opacity="0.55"/>
<rect x="442.27" y="333.1" width="1.7" height="3.2" fill="#ea2c40" fill-opacity="0.72"/>
<rect x="442.70" y="333.3" width="0.84" height="2.8" fill="#4a0510" fill-opacity="0.9"/>
<rect x="445.52" y="330.9" width="0.9" height="9.2" fill="#f23645" fill-opacity="0.55"/>
<rect x="445.12" y="334.2" width="1.7" height="5.0" fill="#ea2c40" fill-opacity="0.72"/>
<rect x="445.55" y="334.4" width="0.84" height="4.6" fill="#4a0510" fill-opacity="0.9"/>
<rect x="448.36" y="332.6" width="0.9" height="11.7" fill="#089981" fill-opacity="0.5"/>
<rect x="447.96" y="335.1" width="1.7" height="6.7" fill="#26a69a" fill-opacity="0.62"/>
<rect x="451.21" y="330.9" width="0.9" height="5.9" fill="#f23645" fill-opacity="0.55"/>
<rect x="450.81" y="331.6" width="1.7" height="4.5" fill="#ea2c40" fill-opacity="0.72"/>
<rect x="451.24" y="331.8" width="0.84" height="4.1" fill="#4a0510" fill-opacity="0.9"/>
<rect x="454.05" y="334.2" width="0.9" height="15.9" fill="#f23645" fill-opacity="0.55"/>
<rect x="453.65" y="335.1" width="1.7" height="8.4" fill="#ea2c40" fill-opacity="0.72"/>
<rect x="454.08" y="335.3" width="0.84" height="8.0" fill="#4a0510" fill-opacity="0.9"/>
<rect x="456.62" y="341.1" width="0.9" height="9.2" fill="#089981" fill-opacity="0.5"/>
<rect x="456.22" y="341.9" width="1.7" height="4.2" fill="#26a69a" fill-opacity="0.62"/>
<rect x="459.47" y="337.8" width="0.9" height="7.5" fill="#089981" fill-opacity="0.5"/>
<rect x="459.07" y="338.7" width="1.7" height="5.7" fill="#26a69a" fill-opacity="0.62"/>
<rect x="462.32" y="336.9" width="0.9" height="13.4" fill="#f23645" fill-opacity="0.55"/>
<rect x="461.92" y="338.6" width="1.7" height="3.3" fill="#ea2c40" fill-opacity="0.72"/>
<rect x="462.35" y="338.8" width="0.84" height="2.9" fill="#4a0510" fill-opacity="0.9"/>
<rect x="465.16" y="336.9" width="0.9" height="6.7" fill="#089981" fill-opacity="0.5"/>
<rect x="464.76" y="337.7" width="1.7" height="5.1" fill="#26a69a" fill-opacity="0.62"/>
<rect x="468.01" y="338.6" width="0.9" height="5.0" fill="#f23645" fill-opacity="0.55"/>
<rect x="467.61" y="339.2" width="1.7" height="3.8" fill="#ea2c40" fill-opacity="0.72"/>
<rect x="468.04" y="339.4" width="0.84" height="3.4" fill="#4a0510" fill-opacity="0.9"/>
<rect x="470.85" y="337.8" width="0.9" height="9.2" fill="#f23645" fill-opacity="0.55"/>
<rect x="470.45" y="338.6" width="1.7" height="7.5" fill="#ea2c40" fill-opacity="0.72"/>
<rect x="470.88" y="338.8" width="0.84" height="7.1" fill="#4a0510" fill-opacity="0.9"/>
<rect x="473.70" y="340.3" width="0.9" height="6.7" fill="#089981" fill-opacity="0.5"/>
<rect x="473.30" y="344.9" width="1.7" height="1.7" fill="#26a69a" fill-opacity="0.62"/>
<rect x="476.54" y="341.1" width="0.9" height="5.0" fill="#089981" fill-opacity="0.5"/>
<rect x="476.14" y="341.7" width="1.7" height="3.8" fill="#26a69a" fill-opacity="0.62"/>
<rect x="479.39" y="339.4" width="0.9" height="10.9" fill="#089981" fill-opacity="0.5"/>
<rect x="478.99" y="341.9" width="1.7" height="4.2" fill="#26a69a" fill-opacity="0.62"/>
<rect x="482.23" y="337.8" width="0.9" height="26.8" fill="#f23645" fill-opacity="0.55"/>
<rect x="481.83" y="342.8" width="1.7" height="7.5" fill="#ea2c40" fill-opacity="0.72"/>
<rect x="482.26" y="343.0" width="0.84" height="7.1" fill="#4a0510" fill-opacity="0.9"/>
<rect x="485.08" y="346.1" width="0.9" height="5.0" fill="#f23645" fill-opacity="0.55"/>
<rect x="484.68" y="346.7" width="1.7" height="3.8" fill="#ea2c40" fill-opacity="0.72"/>
<rect x="485.11" y="346.9" width="0.84" height="3.4" fill="#4a0510" fill-opacity="0.9"/>
<rect x="487.93" y="316.0" width="0.9" height="31.0" fill="#089981" fill-opacity="0.5"/>
<rect x="487.53" y="324.4" width="1.7" height="21.8" fill="#26a69a" fill-opacity="0.62"/>
<rect x="490.77" y="319.3" width="0.9" height="5.9" fill="#089981" fill-opacity="0.5"/>
<rect x="490.37" y="320.0" width="1.7" height="4.5" fill="#26a69a" fill-opacity="0.62"/>
<rect x="493.62" y="319.3" width="0.9" height="5.9" fill="#f23645" fill-opacity="0.55"/>
<rect x="493.22" y="320.0" width="1.7" height="4.5" fill="#ea2c40" fill-opacity="0.72"/>
<rect x="493.65" y="320.2" width="0.84" height="4.1" fill="#4a0510" fill-opacity="0.9"/>
<rect x="496.46" y="321.0" width="0.9" height="4.2" fill="#089981" fill-opacity="0.5"/>
<rect x="496.06" y="321.5" width="1.7" height="3.2" fill="#26a69a" fill-opacity="0.62"/>
<rect x="499.31" y="319.3" width="0.9" height="4.2" fill="#089981" fill-opacity="0.5"/>
<rect x="498.91" y="319.8" width="1.7" height="3.2" fill="#26a69a" fill-opacity="0.62"/>
<rect x="502.15" y="320.2" width="0.9" height="2.5" fill="#f23645" fill-opacity="0.55"/>
<rect x="501.75" y="320.5" width="1.7" height="1.9" fill="#ea2c40" fill-opacity="0.72"/>
<rect x="502.18" y="320.7" width="0.84" height="1.5" fill="#4a0510" fill-opacity="0.9"/>
<rect x="505.00" y="320.2" width="0.9" height="5.0" fill="#f23645" fill-opacity="0.55"/>
<rect x="504.60" y="320.8" width="1.7" height="3.8" fill="#ea2c40" fill-opacity="0.72"/>
<rect x="505.03" y="321.0" width="0.84" height="3.4" fill="#4a0510" fill-opacity="0.9"/>
<rect x="507.51" y="307.6" width="0.9" height="16.7" fill="#089981" fill-opacity="0.5"/>
<rect x="507.11" y="309.3" width="1.7" height="10.0" fill="#26a69a" fill-opacity="0.62"/>
<rect x="510.36" y="303.4" width="0.9" height="6.7" fill="#089981" fill-opacity="0.5"/>
<rect x="509.96" y="304.2" width="1.7" height="5.1" fill="#26a69a" fill-opacity="0.62"/>
<rect x="513.20" y="296.7" width="0.9" height="10.9" fill="#089981" fill-opacity="0.5"/>
<rect x="512.80" y="300.1" width="1.7" height="6.7" fill="#26a69a" fill-opacity="0.62"/>
<rect x="516.05" y="291.7" width="0.9" height="14.2" fill="#089981" fill-opacity="0.5"/>
<rect x="515.65" y="293.4" width="1.7" height="5.0" fill="#26a69a" fill-opacity="0.62"/>
<rect x="518.89" y="291.7" width="0.9" height="5.0" fill="#089981" fill-opacity="0.5"/>
<rect x="518.49" y="292.3" width="1.7" height="3.8" fill="#26a69a" fill-opacity="0.62"/>
<rect x="521.31" y="268.6" width="0.9" height="25.1" fill="#089981" fill-opacity="0.5"/>
<rect x="520.91" y="271.6" width="1.7" height="19.1" fill="#26a69a" fill-opacity="0.62"/>
<rect x="524.16" y="254.4" width="0.9" height="17.6" fill="#089981" fill-opacity="0.5"/>
<rect x="523.76" y="265.3" width="1.7" height="5.9" fill="#26a69a" fill-opacity="0.62"/>
<rect x="527.00" y="257.8" width="0.9" height="10.0" fill="#089981" fill-opacity="0.5"/>
<rect x="526.60" y="261.9" width="1.7" height="5.0" fill="#26a69a" fill-opacity="0.62"/>
<rect x="529.85" y="256.9" width="0.9" height="9.2" fill="#f23645" fill-opacity="0.55"/>
<rect x="529.45" y="261.9" width="1.7" height="3.3" fill="#ea2c40" fill-opacity="0.72"/>
<rect x="529.88" y="262.1" width="0.84" height="2.9" fill="#4a0510" fill-opacity="0.9"/>
<rect x="532.69" y="261.1" width="0.9" height="22.6" fill="#f23645" fill-opacity="0.55"/>
<rect x="532.29" y="265.3" width="1.7" height="1.7" fill="#ea2c40" fill-opacity="0.72"/>
<rect x="532.72" y="265.5" width="0.84" height="1.3" fill="#4a0510" fill-opacity="0.9"/>
<rect x="535.54" y="265.3" width="0.9" height="28.5" fill="#f23645" fill-opacity="0.55"/>
<rect x="535.14" y="266.1" width="1.7" height="5.9" fill="#ea2c40" fill-opacity="0.72"/>
<rect x="535.57" y="266.3" width="0.84" height="5.5" fill="#4a0510" fill-opacity="0.9"/>
<rect x="538.38" y="272.0" width="0.9" height="17.6" fill="#f23645" fill-opacity="0.55"/>
<rect x="537.98" y="272.0" width="1.7" height="13.4" fill="#ea2c40" fill-opacity="0.72"/>
<rect x="538.41" y="272.2" width="0.84" height="13.0" fill="#4a0510" fill-opacity="0.9"/>
<rect x="541.23" y="272.8" width="0.9" height="13.4" fill="#089981" fill-opacity="0.5"/>
<rect x="540.83" y="273.7" width="1.7" height="10.9" fill="#26a69a" fill-opacity="0.62"/>
<rect x="544.08" y="271.1" width="0.9" height="6.7" fill="#089981" fill-opacity="0.5"/>
<rect x="543.68" y="271.9" width="1.7" height="5.1" fill="#26a69a" fill-opacity="0.62"/>
<rect x="546.92" y="270.3" width="0.9" height="7.5" fill="#089981" fill-opacity="0.5"/>
<rect x="546.52" y="271.1" width="1.7" height="2.5" fill="#26a69a" fill-opacity="0.62"/>
<rect x="549.77" y="244.4" width="0.9" height="28.5" fill="#089981" fill-opacity="0.5"/>
<rect x="549.37" y="250.2" width="1.7" height="21.8" fill="#26a69a" fill-opacity="0.62"/>
<rect x="552.61" y="239.3" width="0.9" height="9.2" fill="#089981" fill-opacity="0.5"/>
<rect x="552.21" y="240.4" width="1.7" height="7.0" fill="#26a69a" fill-opacity="0.62"/>
<rect x="555.46" y="231.0" width="0.9" height="10.9" fill="#089981" fill-opacity="0.5"/>
<rect x="555.06" y="232.3" width="1.7" height="8.3" fill="#26a69a" fill-opacity="0.62"/>
<rect x="558.30" y="231.0" width="0.9" height="5.0" fill="#089981" fill-opacity="0.5"/>
<rect x="557.90" y="231.6" width="1.7" height="3.8" fill="#26a69a" fill-opacity="0.62"/>
<rect x="561.15" y="233.5" width="0.9" height="16.7" fill="#f23645" fill-opacity="0.55"/>
<rect x="560.75" y="234.3" width="1.7" height="8.4" fill="#ea2c40" fill-opacity="0.72"/>
<rect x="561.18" y="234.5" width="0.84" height="8.0" fill="#4a0510" fill-opacity="0.9"/>
<rect x="564.00" y="231.8" width="0.9" height="15.1" fill="#089981" fill-opacity="0.5"/>
<rect x="563.60" y="236.0" width="1.7" height="5.0" fill="#26a69a" fill-opacity="0.62"/>
<rect x="566.84" y="225.1" width="0.9" height="13.4" fill="#089981" fill-opacity="0.5"/>
<rect x="566.44" y="226.7" width="1.7" height="10.2" fill="#26a69a" fill-opacity="0.62"/>
<rect x="569.69" y="224.3" width="0.9" height="7.5" fill="#089981" fill-opacity="0.5"/>
<rect x="569.29" y="225.2" width="1.7" height="5.7" fill="#26a69a" fill-opacity="0.62"/>
<rect x="572.19" y="193.7" width="0.9" height="31.8" fill="#089981" fill-opacity="0.5"/>
<rect x="571.79" y="197.5" width="1.7" height="24.2" fill="#26a69a" fill-opacity="0.62"/>
<rect x="575.04" y="187.8" width="0.9" height="17.6" fill="#f23645" fill-opacity="0.55"/>
<rect x="574.64" y="197.0" width="1.7" height="1.7" fill="#ea2c40" fill-opacity="0.72"/>
<rect x="575.07" y="197.2" width="0.84" height="1.3" fill="#4a0510" fill-opacity="0.9"/>
<rect x="577.88" y="192.0" width="0.9" height="7.5" fill="#089981" fill-opacity="0.5"/>
<rect x="577.48" y="192.9" width="1.7" height="5.7" fill="#26a69a" fill-opacity="0.62"/>
<rect x="580.73" y="192.0" width="0.9" height="13.4" fill="#089981" fill-opacity="0.5"/>
<rect x="580.33" y="192.8" width="1.7" height="4.2" fill="#26a69a" fill-opacity="0.62"/>
<rect x="583.57" y="190.3" width="0.9" height="13.4" fill="#f23645" fill-opacity="0.55"/>
<rect x="583.17" y="192.8" width="1.7" height="7.5" fill="#ea2c40" fill-opacity="0.72"/>
<rect x="583.60" y="193.0" width="0.84" height="7.1" fill="#4a0510" fill-opacity="0.9"/>
<rect x="586.42" y="200.3" width="0.9" height="23.1" fill="#f23645" fill-opacity="0.55"/>
<rect x="586.02" y="201.2" width="1.7" height="17.2" fill="#ea2c40" fill-opacity="0.72"/>
<rect x="586.45" y="201.4" width="0.84" height="16.8" fill="#4a0510" fill-opacity="0.9"/>
<rect x="589.27" y="197.8" width="0.9" height="20.6" fill="#089981" fill-opacity="0.5"/>
<rect x="588.87" y="200.3" width="1.7" height="15.6" fill="#26a69a" fill-opacity="0.62"/>
<rect x="592.11" y="193.7" width="0.9" height="10.0" fill="#089981" fill-opacity="0.5"/>
<rect x="591.71" y="194.9" width="1.7" height="7.6" fill="#26a69a" fill-opacity="0.62"/>
<rect x="594.96" y="191.1" width="0.9" height="7.5" fill="#089981" fill-opacity="0.5"/>
<rect x="594.56" y="193.7" width="1.7" height="3.3" fill="#26a69a" fill-opacity="0.62"/>
<rect x="597.80" y="193.7" width="0.9" height="12.6" fill="#f23645" fill-opacity="0.55"/>
<rect x="597.40" y="196.2" width="1.7" height="9.2" fill="#ea2c40" fill-opacity="0.72"/>
<rect x="597.83" y="196.4" width="0.84" height="8.8" fill="#4a0510" fill-opacity="0.9"/>
<rect x="600.65" y="191.1" width="0.9" height="15.1" fill="#089981" fill-opacity="0.5"/>
<rect x="600.25" y="195.3" width="1.7" height="10.0" fill="#26a69a" fill-opacity="0.62"/>
<rect x="603.49" y="165.2" width="0.9" height="31.0" fill="#089981" fill-opacity="0.5"/>
<rect x="603.09" y="168.5" width="1.7" height="26.8" fill="#26a69a" fill-opacity="0.62"/>
<rect x="606.34" y="153.5" width="0.9" height="20.9" fill="#089981" fill-opacity="0.5"/>
<rect x="605.94" y="154.3" width="1.7" height="15.1" fill="#26a69a" fill-opacity="0.62"/>
<rect x="609.19" y="142.6" width="0.9" height="13.4" fill="#089981" fill-opacity="0.5"/>
<rect x="608.79" y="143.4" width="1.7" height="10.0" fill="#26a69a" fill-opacity="0.62"/>
<rect x="612.03" y="131.7" width="0.9" height="12.6" fill="#089981" fill-opacity="0.5"/>
<rect x="611.63" y="136.7" width="1.7" height="6.7" fill="#26a69a" fill-opacity="0.62"/>
<rect x="614.88" y="137.6" width="0.9" height="13.4" fill="#089981" fill-opacity="0.5"/>
<rect x="614.48" y="138.4" width="1.7" height="5.9" fill="#26a69a" fill-opacity="0.62"/>
<rect x="617.72" y="126.7" width="0.9" height="25.9" fill="#f23645" fill-opacity="0.55"/>
<rect x="617.32" y="137.6" width="1.7" height="2.5" fill="#ea2c40" fill-opacity="0.72"/>
<rect x="617.75" y="137.8" width="0.84" height="2.1" fill="#4a0510" fill-opacity="0.9"/>
<rect x="620.14" y="101.1" width="0.9" height="42.4" fill="#089981" fill-opacity="0.5"/>
<rect x="619.74" y="102.3" width="1.7" height="38.2" fill="#26a69a" fill-opacity="0.62"/>
<rect x="622.98" y="52.6" width="0.9" height="50.2" fill="#089981" fill-opacity="0.5"/>
<rect x="622.58" y="58.6" width="1.7" height="38.2" fill="#26a69a" fill-opacity="0.62"/>
<rect x="625.83" y="54.2" width="0.9" height="21.8" fill="#089981" fill-opacity="0.5"/>
<rect x="625.43" y="63.4" width="1.7" height="6.7" fill="#26a69a" fill-opacity="0.62"/>
<rect x="628.68" y="60.1" width="0.9" height="25.1" fill="#f23645" fill-opacity="0.55"/>
<rect x="628.28" y="60.9" width="1.7" height="23.4" fill="#ea2c40" fill-opacity="0.72"/>
<rect x="628.71" y="61.1" width="0.84" height="23.0" fill="#4a0510" fill-opacity="0.9"/>
<rect x="631.52" y="68.5" width="0.9" height="18.4" fill="#089981" fill-opacity="0.5"/>
<rect x="631.12" y="73.5" width="1.7" height="8.4" fill="#26a69a" fill-opacity="0.62"/>
<rect x="634.37" y="80.2" width="0.9" height="112.2" fill="#f23645" fill-opacity="0.55"/>
<rect x="633.97" y="81.0" width="1.7" height="42.7" fill="#ea2c40" fill-opacity="0.72"/>
<rect x="634.40" y="81.2" width="0.84" height="42.3" fill="#4a0510" fill-opacity="0.9"/>
<rect x="637.21" y="99.4" width="0.9" height="39.3" fill="#089981" fill-opacity="0.5"/>
<rect x="636.81" y="115.3" width="1.7" height="18.4" fill="#26a69a" fill-opacity="0.62"/>
<rect x="640.35" y="93.5" width="0.9" height="94.2" fill="#f23645" fill-opacity="0.55"/>
<rect x="639.95" y="111.9" width="1.7" height="44.0" fill="#ea2c40" fill-opacity="0.72"/>
<rect x="640.38" y="112.1" width="0.84" height="43.6" fill="#4a0510" fill-opacity="0.9"/>
<rect x="643.20" y="150.9" width="0.9" height="25.1" fill="#f23645" fill-opacity="0.55"/>
<rect x="642.80" y="155.1" width="1.7" height="20.1" fill="#ea2c40" fill-opacity="0.72"/>
<rect x="643.23" y="155.3" width="0.84" height="19.7" fill="#4a0510" fill-opacity="0.9"/>
<rect x="646.04" y="166.8" width="0.9" height="71.6" fill="#f23645" fill-opacity="0.55"/>
<rect x="645.64" y="176.1" width="1.7" height="10.0" fill="#ea2c40" fill-opacity="0.72"/>
<rect x="646.07" y="176.3" width="0.84" height="9.6" fill="#4a0510" fill-opacity="0.9"/>
<rect x="648.89" y="178.6" width="0.9" height="44.0" fill="#f23645" fill-opacity="0.55"/>
<rect x="648.49" y="186.1" width="1.7" height="25.6" fill="#ea2c40" fill-opacity="0.72"/>
<rect x="648.92" y="186.3" width="0.84" height="25.2" fill="#4a0510" fill-opacity="0.9"/>
<rect x="651.73" y="199.5" width="0.9" height="118.8" fill="#f23645" fill-opacity="0.55"/>
<rect x="651.33" y="211.2" width="1.7" height="26.4" fill="#ea2c40" fill-opacity="0.72"/>
<rect x="651.76" y="211.4" width="0.84" height="26.0" fill="#4a0510" fill-opacity="0.9"/>
<rect x="654.37" y="238.5" width="0.9" height="40.2" fill="#089981" fill-opacity="0.5"/>
<rect x="653.97" y="248.5" width="1.7" height="16.7" fill="#26a69a" fill-opacity="0.62"/>
<rect x="657.21" y="252.7" width="0.9" height="96.3" fill="#f23645" fill-opacity="0.55"/>
<rect x="656.81" y="252.7" width="1.7" height="57.8" fill="#ea2c40" fill-opacity="0.72"/>
<rect x="657.24" y="252.9" width="0.84" height="57.4" fill="#4a0510" fill-opacity="0.9"/>
<rect x="660.06" y="302.5" width="0.9" height="107.1" fill="#f23645" fill-opacity="0.55"/>
<rect x="659.66" y="310.1" width="1.7" height="67.0" fill="#ea2c40" fill-opacity="0.72"/>
<rect x="660.09" y="310.3" width="0.84" height="66.6" fill="#4a0510" fill-opacity="0.9"/>
<rect x="662.90" y="301.7" width="0.9" height="81.2" fill="#089981" fill-opacity="0.5"/>
<rect x="662.50" y="310.9" width="1.7" height="66.1" fill="#26a69a" fill-opacity="0.62"/>
<rect x="666.08" y="277.0" width="0.9" height="44.9" fill="#089981" fill-opacity="0.5"/>
<rect x="665.68" y="296.7" width="1.7" height="15.1" fill="#26a69a" fill-opacity="0.62"/>
<rect x="668.93" y="297.0" width="0.9" height="48.2" fill="#f23645" fill-opacity="0.55"/>
<rect x="668.53" y="306.8" width="1.7" height="19.3" fill="#ea2c40" fill-opacity="0.72"/>
<rect x="668.96" y="307.0" width="0.84" height="18.9" fill="#4a0510" fill-opacity="0.9"/>
<rect x="671.44" y="308.8" width="0.9" height="25.1" fill="#089981" fill-opacity="0.5"/>
<rect x="671.04" y="323.8" width="1.7" height="3.3" fill="#26a69a" fill-opacity="0.62"/>
<rect x="674.29" y="264.4" width="0.9" height="62.8" fill="#089981" fill-opacity="0.5"/>
<rect x="673.89" y="287.0" width="1.7" height="38.5" fill="#26a69a" fill-opacity="0.62"/>
<rect x="677.13" y="252.7" width="0.9" height="51.1" fill="#089981" fill-opacity="0.5"/>
<rect x="676.73" y="256.9" width="1.7" height="31.0" fill="#26a69a" fill-opacity="0.62"/>
<rect x="679.98" y="235.9" width="0.9" height="22.6" fill="#089981" fill-opacity="0.5"/>
<rect x="679.58" y="252.7" width="1.7" height="5.0" fill="#26a69a" fill-opacity="0.62"/>
<rect x="682.82" y="235.1" width="0.9" height="20.9" fill="#089981" fill-opacity="0.5"/>
<rect x="682.42" y="245.2" width="1.7" height="10.0" fill="#26a69a" fill-opacity="0.62"/>
<rect x="685.34" y="222.6" width="0.9" height="33.5" fill="#f23645" fill-opacity="0.55"/>
<rect x="684.94" y="246.0" width="1.7" height="5.0" fill="#ea2c40" fill-opacity="0.72"/>
<rect x="685.37" y="246.2" width="0.84" height="4.6" fill="#4a0510" fill-opacity="0.9"/>
<rect x="688.18" y="231.8" width="0.9" height="25.1" fill="#f23645" fill-opacity="0.55"/>
<rect x="687.78" y="249.3" width="1.7" height="6.7" fill="#ea2c40" fill-opacity="0.72"/>
<rect x="688.21" y="249.5" width="0.84" height="6.3" fill="#4a0510" fill-opacity="0.9"/>
<rect x="691.07" y="202.0" width="0.9" height="47.4" fill="#089981" fill-opacity="0.5"/>
<rect x="690.67" y="202.8" width="1.7" height="34.8" fill="#26a69a" fill-opacity="0.62"/>
<rect x="693.92" y="194.5" width="0.9" height="15.9" fill="#089981" fill-opacity="0.5"/>
<rect x="693.52" y="195.3" width="1.7" height="11.7" fill="#26a69a" fill-opacity="0.62"/>
<rect x="696.76" y="193.6" width="0.9" height="15.1" fill="#f23645" fill-opacity="0.55"/>
<rect x="696.36" y="197.8" width="1.7" height="9.2" fill="#ea2c40" fill-opacity="0.72"/>
<rect x="696.79" y="198.0" width="0.84" height="8.8" fill="#4a0510" fill-opacity="0.9"/>
<rect x="699.61" y="202.0" width="0.9" height="28.0" fill="#f23645" fill-opacity="0.55"/>
<rect x="699.21" y="206.2" width="1.7" height="19.8" fill="#ea2c40" fill-opacity="0.72"/>
<rect x="699.64" y="206.4" width="0.84" height="19.4" fill="#4a0510" fill-opacity="0.9"/>
<rect x="702.41" y="219.2" width="0.9" height="46.0" fill="#f23645" fill-opacity="0.55"/>
<rect x="702.01" y="225.1" width="1.7" height="18.4" fill="#ea2c40" fill-opacity="0.72"/>
<rect x="702.44" y="225.3" width="0.84" height="18.0" fill="#4a0510" fill-opacity="0.9"/>
<rect x="705.25" y="230.1" width="0.9" height="16.7" fill="#089981" fill-opacity="0.5"/>
<rect x="704.85" y="235.1" width="1.7" height="8.4" fill="#26a69a" fill-opacity="0.62"/>
<rect x="708.10" y="214.2" width="0.9" height="65.3" fill="#f23645" fill-opacity="0.55"/>
<rect x="707.70" y="230.1" width="1.7" height="48.5" fill="#ea2c40" fill-opacity="0.72"/>
<rect x="708.13" y="230.3" width="0.84" height="48.1" fill="#4a0510" fill-opacity="0.9"/>
<rect x="710.95" y="240.1" width="0.9" height="45.2" fill="#089981" fill-opacity="0.5"/>
<rect x="710.55" y="244.3" width="1.7" height="32.6" fill="#26a69a" fill-opacity="0.62"/>
<rect x="713.79" y="237.6" width="0.9" height="21.8" fill="#f23645" fill-opacity="0.55"/>
<rect x="713.39" y="245.2" width="1.7" height="13.4" fill="#ea2c40" fill-opacity="0.72"/>
<rect x="713.82" y="245.4" width="0.84" height="13.0" fill="#4a0510" fill-opacity="0.9"/>
<rect x="716.64" y="248.5" width="0.9" height="31.8" fill="#f23645" fill-opacity="0.55"/>
<rect x="716.24" y="258.5" width="1.7" height="8.4" fill="#ea2c40" fill-opacity="0.72"/>
<rect x="716.67" y="258.7" width="0.84" height="8.0" fill="#4a0510" fill-opacity="0.9"/>
<rect x="719.48" y="249.3" width="0.9" height="18.4" fill="#089981" fill-opacity="0.5"/>
<rect x="719.08" y="260.2" width="1.7" height="6.7" fill="#26a69a" fill-opacity="0.62"/>
<rect x="722.33" y="261.9" width="0.9" height="31.8" fill="#f23645" fill-opacity="0.55"/>
<rect x="721.93" y="263.6" width="1.7" height="25.1" fill="#ea2c40" fill-opacity="0.72"/>
<rect x="722.36" y="263.8" width="0.84" height="24.7" fill="#4a0510" fill-opacity="0.9"/>
<rect x="725.17" y="267.8" width="0.9" height="59.4" fill="#089981" fill-opacity="0.5"/>
<rect x="724.77" y="276.1" width="1.7" height="17.6" fill="#26a69a" fill-opacity="0.62"/>
<rect x="728.02" y="250.2" width="0.9" height="31.0" fill="#089981" fill-opacity="0.5"/>
<rect x="727.62" y="266.9" width="1.7" height="10.0" fill="#26a69a" fill-opacity="0.62"/>
<rect x="730.87" y="256.0" width="0.9" height="16.7" fill="#089981" fill-opacity="0.5"/>
<rect x="730.47" y="256.9" width="1.7" height="10.0" fill="#26a69a" fill-opacity="0.62"/>
</g>
<line x1="623.4" y1="52.6" x2="757.0" y2="297.6" stroke="#f23645" stroke-width="1.25"/>
<ellipse cx="550.4" cy="244.9" rx="10.1" ry="12.6" fill="#f23645" fill-opacity="0.2" stroke="#f23645" stroke-width="1.3"/>
<ellipse cx="655.0" cy="249.1" rx="10.1" ry="12.6" fill="#f23645" fill-opacity="0.2" stroke="#f23645" stroke-width="1.3"/>
<ellipse cx="626.4" cy="57.5" rx="10.1" ry="12.6" fill="#00bcd4" fill-opacity="0.2" stroke="#00bcd4" stroke-width="1.3"/>
<line x1="530.1" y1="216.6" x2="541.6" y2="229.8" stroke="#6e3a48" stroke-width="0.9"/>
<line x1="643.2" y1="257.1" x2="626.4" y2="273.9" stroke="#6e3a48" stroke-width="0.9"/>
<line x1="620.3" y1="25.9" x2="623.3" y2="40.2" stroke="#7a5a6a" stroke-width="0.9"/>
<rect x="498.9" y="202" width="39.2" height="11.8" fill="#f23645"/>
<text x="518.5" y="210.96" font-size="8.5" font-weight="bold" fill="#ffffff" text-anchor="middle" textLength="35.7" lengthAdjust="spacingAndGlyphs">BREAKOUT</text>
<rect x="589.5" y="281.9" width="38.8" height="11.7" fill="#f23645"/>
<text x="608.9" y="290.81" font-size="8.5" font-weight="bold" fill="#ffffff" text-anchor="middle" textLength="35.7" lengthAdjust="spacingAndGlyphs">BREAKOUT</text>
<rect x="601" y="9.2" width="45.2" height="11.7" fill="#18b9d0"/>
<text x="623.6" y="18.11" font-size="8.5" font-weight="bold" fill="#ffffff" text-anchor="middle" textLength="41.5" lengthAdjust="spacingAndGlyphs">PIVOT POINT</text>
<text transform="translate(695.8,168.7) rotate(61.40)" x="0" y="3.6" font-size="13.2" fill="#f23645" stroke="#f23645" stroke-width="0.5" text-anchor="middle" textLength="65.5" lengthAdjust="spacingAndGlyphs">Supply Line</text>
<polygon points="733.5,265.9 743.8,285.5 747.1,283.9 744.7,297 735.5,289.7 738.6,288.2" fill="#f23645"/>
<polygon points="749.3,282.5 744.6,297 755.6,287.7" fill="#2962ff"/>
<circle cx="744.8" cy="296.9" r="1.4" fill="#2962ff"/>
<rect x="749.3" y="271.8" width="41.5" height="15.9" rx="2.2" fill="#2962ff"/>
<text x="770.1" y="282.6" font-size="8.8" font-weight="bold" fill="#ffffff" text-anchor="middle" textLength="30.3" lengthAdjust="spacingAndGlyphs">4,750.00</text>
<path d="M371.3,75.2 C367,72.6 358,71.6 350,72.8 C339,75 326,86 314.6,103.7 L291.6,103.9 C288.5,103.9 286.6,105.4 285.4,108 L275.2,131.5 C273.6,135.6 274,139 276.6,140.8 C278,141.7 279.6,141.9 281.5,141.9 L298.3,141.9 L293.6,150.2 C292.6,152.2 292.9,154 294.3,155.8 L306.6,169.8 C308.8,172.2 311.6,172.4 313.8,170 L317.8,165.2 L317.8,189.8 C317.8,194.8 321.6,196.6 325.8,194.2 L346.4,181 C348.6,179.6 349.6,177.6 349.6,175 L349.6,147.3 C360,136 368.5,120 371.8,108 C374.2,97 374,84 371.3,75.2 Z" fill="#2962ff"/>
<ellipse cx="348.6" cy="103.6" rx="7.5" ry="9.4" transform="rotate(14 348.6 103.6)" fill="#ffffff"/>
<text x="6.7" y="241.8" font-size="16.6" font-weight="bold" fill="#ee2f45" textLength="43.5" lengthAdjust="spacingAndGlyphs">Supply</text>
<text x="843.5" y="317.5" font-size="16" font-weight="bold" fill="#089981" textLength="53" lengthAdjust="spacingAndGlyphs">Demand</text>
<text transform="translate(244.8,483.4) rotate(-20.33)" x="0" y="0" font-size="11.2" font-weight="bold" fill="#089981" textLength="93.5" lengthAdjust="spacingAndGlyphs">ASCENDING CHANNEL</text>
<text x="4.2" y="13.4" font-size="8.2" fill="#a3a6af" textLength="119.3" lengthAdjust="spacingAndGlyphs">Gold Spot / U.S. Dollar · 4h · FOREX.com</text>
<text x="907.3" y="28.3" font-size="6.5" fill="#959bae" textLength="20.2" lengthAdjust="spacingAndGlyphs">5,700.00</text>
<text x="907.3" y="54.6" font-size="6.5" fill="#959bae" textLength="20.2" lengthAdjust="spacingAndGlyphs">5,600.00</text>
<text x="907.3" y="81.3" font-size="6.5" fill="#959bae" textLength="20.2" lengthAdjust="spacingAndGlyphs">5,500.00</text>
<text x="907.3" y="108.6" font-size="6.5" fill="#959bae" textLength="20.2" lengthAdjust="spacingAndGlyphs">5,400.00</text>
<text x="907.3" y="130.8" font-size="6.5" fill="#959bae" textLength="20.2" lengthAdjust="spacingAndGlyphs">5,320.00</text>
<text x="907.3" y="153.3" font-size="6.5" fill="#959bae" textLength="20.2" lengthAdjust="spacingAndGlyphs">5,240.00</text>
<text x="907.3" y="176.1" font-size="6.5" fill="#959bae" textLength="20.2" lengthAdjust="spacingAndGlyphs">5,160.00</text>
<text x="907.3" y="199.3" font-size="6.5" fill="#959bae" textLength="20.2" lengthAdjust="spacingAndGlyphs">5,080.00</text>
<text x="907.3" y="222.9" font-size="6.5" fill="#959bae" textLength="20.2" lengthAdjust="spacingAndGlyphs">5,000.00</text>
<text x="907.3" y="246.8" font-size="6.5" fill="#959bae" textLength="20.2" lengthAdjust="spacingAndGlyphs">4,920.00</text>
<text x="907.3" y="317.9" font-size="6.5" fill="#959bae" textLength="20.2" lengthAdjust="spacingAndGlyphs">4,690.00</text>
<text x="907.3" y="337.0" font-size="6.5" fill="#959bae" textLength="20.2" lengthAdjust="spacingAndGlyphs">4,630.00</text>
<text x="907.3" y="356.4" font-size="6.5" fill="#959bae" textLength="20.2" lengthAdjust="spacingAndGlyphs">4,570.00</text>
<text x="907.3" y="376.0" font-size="6.5" fill="#959bae" textLength="20.2" lengthAdjust="spacingAndGlyphs">4,510.00</text>
<text x="907.3" y="395.9" font-size="6.5" fill="#959bae" textLength="20.2" lengthAdjust="spacingAndGlyphs">4,450.00</text>
<text x="907.3" y="416.1" font-size="6.5" fill="#959bae" textLength="20.2" lengthAdjust="spacingAndGlyphs">4,390.00</text>
<text x="907.3" y="433.1" font-size="6.5" fill="#959bae" textLength="20.2" lengthAdjust="spacingAndGlyphs">4,340.00</text>
<text x="907.3" y="450.3" font-size="6.5" fill="#959bae" textLength="20.2" lengthAdjust="spacingAndGlyphs">4,290.00</text>
<text x="907.3" y="467.7" font-size="6.5" fill="#959bae" textLength="20.2" lengthAdjust="spacingAndGlyphs">4,240.00</text>
<text x="907.3" y="485.3" font-size="6.5" fill="#959bae" textLength="20.2" lengthAdjust="spacingAndGlyphs">4,190.00</text>
<text x="907.3" y="501.4" font-size="6.5" fill="#959bae" textLength="20.2" lengthAdjust="spacingAndGlyphs">4,145.00</text>
<text x="907.3" y="517.2" font-size="6.5" fill="#959bae" textLength="20.2" lengthAdjust="spacingAndGlyphs">4,101.00</text>
<text x="907.3" y="533.2" font-size="6.5" fill="#959bae" textLength="20.2" lengthAdjust="spacingAndGlyphs">4,057.00</text>
<text x="32.5" y="543.8" font-size="6.4" fill="#a6a9b3" text-anchor="middle" textLength="3.2" lengthAdjust="spacingAndGlyphs">9</text>
<text x="65.5" y="543.8" font-size="6.4" fill="#a6a9b3" text-anchor="middle" textLength="6.4" lengthAdjust="spacingAndGlyphs">11</text>
<text x="100" y="543.8" font-size="6.4" fill="#a6a9b3" text-anchor="middle" textLength="6.4" lengthAdjust="spacingAndGlyphs">15</text>
<text x="134" y="543.8" font-size="6.4" fill="#a6a9b3" text-anchor="middle" textLength="6.4" lengthAdjust="spacingAndGlyphs">17</text>
<text x="168" y="543.8" font-size="6.4" fill="#a6a9b3" text-anchor="middle" textLength="6.4" lengthAdjust="spacingAndGlyphs">19</text>
<text x="201.5" y="543.8" font-size="6.4" fill="#a6a9b3" text-anchor="middle" textLength="6.4" lengthAdjust="spacingAndGlyphs">23</text>
<text x="233" y="543.8" font-size="6.4" fill="#a6a9b3" text-anchor="middle" textLength="6.4" lengthAdjust="spacingAndGlyphs">26</text>
<text x="267" y="543.8" font-size="6.4" fill="#a6a9b3" text-anchor="middle" textLength="6.4" lengthAdjust="spacingAndGlyphs">30</text>
<text x="300.5" y="543.8" font-size="6.4" fill="#a6a9b3" text-anchor="middle" textLength="12.4" lengthAdjust="spacingAndGlyphs">2026</text>
<text x="335" y="543.8" font-size="6.4" fill="#a6a9b3" text-anchor="middle" textLength="3.2" lengthAdjust="spacingAndGlyphs">6</text>
<text x="369" y="543.8" font-size="6.4" fill="#a6a9b3" text-anchor="middle" textLength="3.2" lengthAdjust="spacingAndGlyphs">8</text>
<text x="402.5" y="543.8" font-size="6.4" fill="#a6a9b3" text-anchor="middle" textLength="6.4" lengthAdjust="spacingAndGlyphs">12</text>
<text x="436.5" y="543.8" font-size="6.4" fill="#a6a9b3" text-anchor="middle" textLength="6.4" lengthAdjust="spacingAndGlyphs">14</text>
<text x="470" y="543.8" font-size="6.4" fill="#a6a9b3" text-anchor="middle" textLength="6.4" lengthAdjust="spacingAndGlyphs">16</text>
<text x="504" y="543.8" font-size="6.4" fill="#a6a9b3" text-anchor="middle" textLength="6.4" lengthAdjust="spacingAndGlyphs">20</text>
<text x="538.5" y="543.8" font-size="6.4" fill="#a6a9b3" text-anchor="middle" textLength="6.4" lengthAdjust="spacingAndGlyphs">22</text>
<text x="572" y="543.8" font-size="6.4" fill="#a6a9b3" text-anchor="middle" textLength="6.4" lengthAdjust="spacingAndGlyphs">26</text>
<text x="606.5" y="543.8" font-size="6.4" fill="#a6a9b3" text-anchor="middle" textLength="6.4" lengthAdjust="spacingAndGlyphs">28</text>
<text x="656.5" y="543.8" font-size="6.4" fill="#a6a9b3" text-anchor="middle" textLength="9.6" lengthAdjust="spacingAndGlyphs">Feb</text>
<text x="691.5" y="543.8" font-size="6.4" fill="#a6a9b3" text-anchor="middle" textLength="3.2" lengthAdjust="spacingAndGlyphs">4</text>
<text x="725" y="543.8" font-size="6.4" fill="#a6a9b3" text-anchor="middle" textLength="3.2" lengthAdjust="spacingAndGlyphs">6</text>
<text x="759" y="543.8" font-size="6.4" fill="#a6a9b3" text-anchor="middle" textLength="6.4" lengthAdjust="spacingAndGlyphs">10</text>
<text x="793" y="543.8" font-size="6.4" fill="#a6a9b3" text-anchor="middle" textLength="6.4" lengthAdjust="spacingAndGlyphs">12</text>
<text x="827" y="543.8" font-size="6.4" fill="#a6a9b3" text-anchor="middle" textLength="6.4" lengthAdjust="spacingAndGlyphs">16</text>
<text x="861" y="543.8" font-size="6.4" fill="#a6a9b3" text-anchor="middle" textLength="6.4" lengthAdjust="spacingAndGlyphs">18</text>
<text x="895" y="543.8" font-size="6.4" fill="#a6a9b3" text-anchor="middle" textLength="6.4" lengthAdjust="spacingAndGlyphs">20</text>
<rect x="905.3" y="2.6" width="24.5" height="16.2" rx="2.3" fill="#ffffff" stroke="#e6e9f0" stroke-width="0.8"/>
<text x="915.4" y="13.9" font-size="8.3" fill="#7a1a28" stroke="#7a1a28" stroke-width="0.3" text-anchor="middle" textLength="10.6" lengthAdjust="spacingAndGlyphs">USD</text>
<rect x="904" y="246.7" width="25.8" height="9.2" rx="0.8" fill="#c8202f"/>
<text x="916.9" y="253.6" font-size="6.4" fill="#ffffff" text-anchor="middle" textLength="20.2" lengthAdjust="spacingAndGlyphs">4,900.00</text>
<rect x="904" y="261.4" width="25.8" height="16.3" rx="0.8" fill="#000000"/>
<text x="916.9" y="267.8" font-size="6.4" fill="#ffffff" text-anchor="middle" textLength="20.2" lengthAdjust="spacingAndGlyphs">4,852.19</text>
<text x="916.9" y="275.9" font-size="6.4" fill="#e8a0a8" text-anchor="middle" textLength="20.2" lengthAdjust="spacingAndGlyphs">01:42:39</text>
<rect x="904" y="284" width="25.8" height="8.5" rx="0.8" fill="#8a4a55"/>
<text x="916.9" y="290.6" font-size="6.4" fill="#ffffff" text-anchor="middle" textLength="20.2" lengthAdjust="spacingAndGlyphs">4,778.06</text>
<rect x="904" y="292.4" width="25.8" height="9.2" rx="0.8" fill="#089981"/>
<text x="916.9" y="299.3" font-size="6.4" fill="#ffffff" text-anchor="middle" textLength="20.2" lengthAdjust="spacingAndGlyphs">4,750.00</text>
<g transform="translate(730,525.5) scale(0.79,1)"><circle r="6.9" fill="#ffffff" stroke="#b04a5a" stroke-width="0.9"/><path d="M1.5,-2.6 A3,3 0 1 0 1.5,2.6 A2.2,2.2 0 1 1 1.5,-2.6Z" fill="#b04a5a" opacity="0.7"/></g>
<g transform="translate(736.7,525.5) scale(0.79,1)">
<circle r="6.9" fill="#ffffff" stroke="#f23645" stroke-width="1.05"/>
<clipPath id="c7367"><circle r="5.2"/></clipPath>
<g clip-path="url(#c7367)">
<rect x="-6" y="-6" width="12" height="12" fill="#ffffff"/>
<rect x="-6" y="-5.20" width="12" height="1.16" fill="#f23645"/>
<rect x="-6" y="-2.88" width="12" height="1.16" fill="#f23645"/>
<rect x="-6" y="-0.56" width="12" height="1.16" fill="#f23645"/>
<rect x="-6" y="1.76" width="12" height="1.16" fill="#f23645"/>
<rect x="-6" y="4.08" width="12" height="1.16" fill="#f23645"/>
<rect x="-6" y="-6" width="6.4" height="6.6" fill="#2b62c9"/>
</g></g>
<g transform="translate(767.8,525.5) scale(0.79,1)">
<circle r="6.9" fill="#ffffff" stroke="#f23645" stroke-width="1.05"/>
<clipPath id="c7678"><circle r="5.2"/></clipPath>
<g clip-path="url(#c7678)">
<rect x="-6" y="-6" width="12" height="12" fill="#ffffff"/>
<rect x="-6" y="-5.20" width="12" height="1.16" fill="#f23645"/>
<rect x="-6" y="-2.88" width="12" height="1.16" fill="#f23645"/>
<rect x="-6" y="-0.56" width="12" height="1.16" fill="#f23645"/>
<rect x="-6" y="1.76" width="12" height="1.16" fill="#f23645"/>
<rect x="-6" y="4.08" width="12" height="1.16" fill="#f23645"/>
<rect x="-6" y="-6" width="6.4" height="6.6" fill="#2b62c9"/>
</g></g>
<g transform="translate(784.5,525.5) scale(0.79,1)">
<circle r="6.9" fill="#ffffff" stroke="#f23645" stroke-width="1.05"/>
<clipPath id="c7845"><circle r="5.2"/></clipPath>
<g clip-path="url(#c7845)">
<rect x="-6" y="-6" width="12" height="12" fill="#ffffff"/>
<rect x="-6" y="-5.20" width="12" height="1.16" fill="#f23645"/>
<rect x="-6" y="-2.88" width="12" height="1.16" fill="#f23645"/>
<rect x="-6" y="-0.56" width="12" height="1.16" fill="#f23645"/>
<rect x="-6" y="1.76" width="12" height="1.16" fill="#f23645"/>
<rect x="-6" y="4.08" width="12" height="1.16" fill="#f23645"/>
<rect x="-6" y="-6" width="6.4" height="6.6" fill="#2b62c9"/>
</g></g>
</svg>
</body></html>
